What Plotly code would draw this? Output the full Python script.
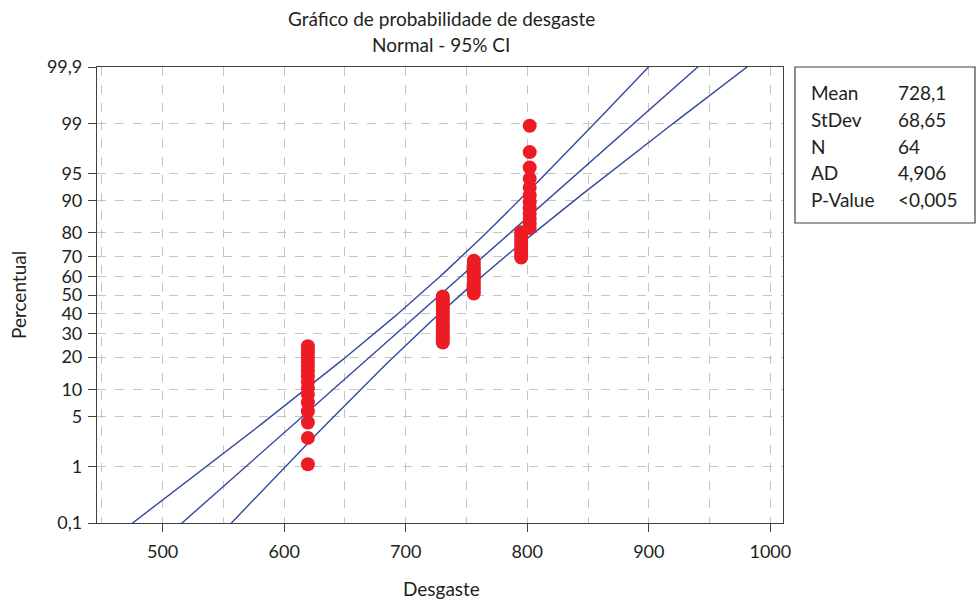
import plotly.graph_objects as go
from statistics import NormalDist

# ---------------- data ----------------
desgaste = [
    619.5, 619.5, 619.5, 619.5, 619.5, 619.5, 619.5, 619.5,
    619.5, 619.5, 619.5, 619.5, 619.5, 619.5, 619.5, 619.5,
    730.5, 730.5, 730.5, 730.5, 730.5, 730.5, 730.5, 730.5,
    730.5, 730.5, 730.5, 730.5, 730.5, 730.5, 730.5, 730.5,
    756.0, 756.0, 756.0, 756.0, 756.0, 756.0,
    756.0, 756.0, 756.0, 756.0, 756.0, 756.0,
    795.0, 795.0, 795.0, 795.0, 795.0, 795.0, 795.0, 795.0,
    802.0, 802.0, 802.0, 802.0, 802.0, 802.0,
    802.0, 802.0, 802.0, 802.0, 802.0, 802.0,
]
mean_val = 728.1
stdev_val = 68.65
n_val = 64
stat_labels = ["Mean", "StDev", "N", "AD", "P-Value"]
stat_values = ["728,1", "68,65", "64", "4,906", "&lt;0,005"]

y_tick_pct = [0.1, 1, 5, 10, 20, 30, 40, 50, 60, 70, 80, 90, 95, 99, 99.9]
y_tick_text = ["0,1", "1", "5", "10", "20", "30", "40", "50", "60", "70",
               "80", "90", "95", "99", "99,9"]
x_tick_vals = [500, 600, 700, 800, 900, 1000]
x_tick_text = ["500", "600", "700", "800", "900", "1000"]

# ---------------- derived ----------------
nd = NormalDist()
xs = sorted(desgaste)
n = len(xs)
# Minitab median-rank plotting positions
zs = [nd.inv_cdf((i + 1 - 0.3) / (n + 0.4)) for i in range(n)]

z_line = [k / 20.0 for k in range(-70, 71)]
fit = [mean_val + z * stdev_val for z in z_line]
half = [1.959964 * stdev_val * ((1 + z * z / 2) / n_val) ** 0.5 for z in z_line]
lo = [f - h for f, h in zip(fit, half)]
hi = [f + h for f, h in zip(fit, half)]

FONT = "Lato"
BLUE = "#3348a0"
RED = "#ed1c24"
GRID = "#c4c4c4"
AXIS = "#404040"
FS = 19

# plot area in pixels
L, R, T, B = 97, 783, 67, 523
W, H = R - L, B - T


def px(xp):
    return (xp - L) / W


def py(yp):
    return (B - yp) / H


fig = go.Figure()
for xv in (lo, fit, hi):
    fig.add_trace(go.Scatter(x=xv, y=z_line, mode="lines",
                             line=dict(color=BLUE, width=1.4),
                             hoverinfo="skip", showlegend=False))
fig.add_trace(go.Scatter(x=xs, y=zs, mode="markers",
                         marker=dict(color=RED, size=14, line=dict(width=0)),
                         showlegend=False))

zmin = nd.inv_cdf(0.001)
zmax = nd.inv_cdf(0.999)

fig.update_layout(
    width=977, height=600,
    margin=dict(l=L, r=977 - R, t=T, b=600 - B, autoexpand=False),
    paper_bgcolor="white", plot_bgcolor="white",
    font=dict(family=FONT, size=FS, color="#231f20"),
    xaxis=dict(
        range=[446, 1010.4], automargin=False,
        tickvals=x_tick_vals, ticktext=x_tick_text,
        ticks="outside", ticklen=8, tickcolor=AXIS, tickwidth=1,
        ticklabelstandoff=4,
        showline=True, linecolor=AXIS, linewidth=1.2, mirror=True,
        showgrid=True, gridcolor=GRID, griddash="dash", gridwidth=1,
        minor=dict(tick0=450, dtick=100, showgrid=True, gridcolor=GRID,
                   griddash="dash", gridwidth=1, ticks=""),
        zeroline=False,
        tickfont=dict(size=18),
    ),
    yaxis=dict(
        range=[zmin, zmax], automargin=False,
        tickvals=[nd.inv_cdf(p / 100.0) for p in y_tick_pct],
        ticktext=y_tick_text,
        ticks="outside", ticklen=8, tickcolor=AXIS, tickwidth=1,
        ticklabelstandoff=2,
        showline=True, linecolor=AXIS, linewidth=1.2, mirror=True,
        showgrid=True, gridcolor=GRID, griddash="dash", gridwidth=1,
        zeroline=False,
        tickfont=dict(size=18),
    ),
)

# titles
fig.add_annotation(text="Gráfico de probabilidade de desgaste", xref="paper", yref="paper",
                   x=px(441), y=py(18), xanchor="center", yanchor="middle",
                   showarrow=False)
fig.add_annotation(text="Normal - 95% CI", xref="paper", yref="paper",
                   x=px(441), y=py(45), xanchor="center", yanchor="middle",
                   showarrow=False)
fig.add_annotation(text="Desgaste", xref="paper", yref="paper",
                   x=px(441), y=py(588), xanchor="center", yanchor="middle",
                   showarrow=False)
fig.add_annotation(text="Percentual", xref="paper", yref="paper",
                   x=px(18), y=py(295), xanchor="center", yanchor="middle",
                   textangle=-90, showarrow=False)

# stats box
fig.add_shape(type="rect", xref="paper", yref="paper",
              x0=px(795), x1=px(975), y0=py(223), y1=py(67),
              line=dict(color=AXIS, width=1.2), fillcolor="white")
row_y = [93, 119, 146, 173, 200]
for lab, val, ry in zip(stat_labels, stat_values, row_y):
    fig.add_annotation(text=lab, xref="paper", yref="paper",
                       x=px(809), y=py(ry),
                       xanchor="left", yanchor="middle", showarrow=False)
    fig.add_annotation(text=val, xref="paper", yref="paper",
                       x=px(896), y=py(ry),
                       xanchor="left", yanchor="middle", showarrow=False)

fig.write_html("out.html",
               config={"displayModeBar": False},
               post_script="document.body.style.margin='0';document.body.style.padding='0';")
